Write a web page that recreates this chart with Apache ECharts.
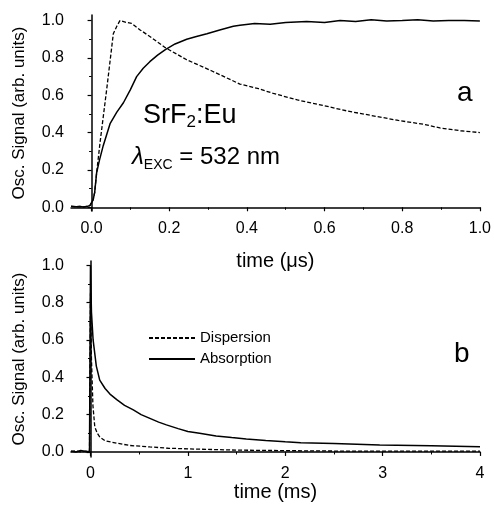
<!DOCTYPE html>
<html><head><meta charset="utf-8">
<script src="https://cdn.jsdelivr.net/npm/echarts@6/dist/echarts.min.js"></script>
<style>html,body{margin:0;padding:0;background:#fff}#c{width:494px;height:508px}</style>
</head><body><div id="c"></div>
<script>
// ---- Panel a (time in microseconds) ----
const topAbsX = [-0.053,-0.04,-0.03,-0.02,-0.01,-0.004,0,0.004,0.008,0.013,0.02,0.03,0.048,0.065,0.082,0.1,0.116,0.133,0.15,0.17,0.19,0.215,0.245,0.27,0.297,0.33,0.365,0.382,0.42,0.46,0.5,0.554,0.6,0.64,0.68,0.72,0.76,0.8,0.84,0.88,0.92,0.96,1.0];
const topAbsY = [0.005,0.003,0.004,0.002,0.005,0.01,0.02,0.04,0.08,0.185,0.25,0.33,0.45,0.51,0.56,0.63,0.70,0.745,0.78,0.815,0.845,0.875,0.90,0.915,0.93,0.95,0.97,0.975,0.985,0.98,0.99,0.995,0.99,1.0,0.995,1.005,0.998,1.0,1.005,0.998,1.0,1.0,0.998];
const topDispX = [-0.053,-0.04,-0.03,-0.02,-0.01,-0.004,0,0.004,0.008,0.013,0.022,0.04,0.056,0.065,0.073,0.078,0.09,0.103,0.125,0.15,0.19,0.245,0.31,0.382,0.43,0.468,0.53,0.597,0.66,0.725,0.79,0.854,0.897,0.95,1.0];
const topDispY = [0.005,0.003,0.004,0.002,0.005,0.01,0.02,0.04,0.08,0.185,0.35,0.65,0.93,0.97,1.0,1.005,0.99,0.985,0.95,0.915,0.855,0.79,0.73,0.66,0.635,0.61,0.575,0.545,0.515,0.49,0.465,0.445,0.425,0.41,0.40];

// ---- Panel b (time in milliseconds) ----
const botAbsX = [-0.2,-0.15,-0.1,-0.05,-0.01,0,0,0.01,0.027,0.06,0.095,0.15,0.2,0.27,0.35,0.44,0.52,0.61,0.7,0.78,0.9,1.0,1.12,1.29,1.45,1.6,1.8,2.0,2.16,2.5,2.97,3.5,4.0];
const botAbsY = [0.005,0.0,0.008,0.002,0.004,0.0,1.0,0.75,0.6,0.46,0.385,0.34,0.31,0.28,0.25,0.225,0.2,0.18,0.16,0.145,0.125,0.11,0.10,0.085,0.077,0.07,0.062,0.055,0.05,0.045,0.037,0.033,0.028];
const botDispX = [-0.2,-0.15,-0.1,-0.05,-0.01,0,0,0.01,0.025,0.044,0.07,0.096,0.15,0.27,0.4,0.61,0.8,1.1,1.5,2.0,2.5,3.0,3.5,4.0];
const botDispY = [0.002,0.006,0.0,0.005,0.003,0.0,0.85,0.5,0.25,0.135,0.1,0.08,0.06,0.047,0.035,0.027,0.02,0.015,0.01,0.007,0.005,0.004,0.004,0.005];

// ---- Ticks ----
const topXTicks = [0,0.2,0.4,0.6,0.8,1.0];
const topXMinor = [0.1,0.3,0.5,0.7,0.9];
const yTicks = [0,0.2,0.4,0.6,0.8,1.0];
const yMinor = [0.1,0.3,0.5,0.7,0.9];
const botXTicks = [0,1,2,3,4];
const botXMinor = [0.5,1.5,2.5,3.5];

const seriesNames = ['Dispersion','Absorption'];

const FONT = 'Liberation Sans, Arial, Helvetica, sans-serif';
const pairs = (xs, ys) => xs.map((x, i) => [x, ys[i]]);
const axLine = {show:true, lineStyle:{color:'#000', width:1.5}};

function mainAxis(grid, min, max, ticks, fmt, margin, extra) {
  return Object.assign({
    type:'value', gridIndex:grid, min:min, max:max,
    axisLine: axLine,
    axisTick:{show:true, inside:false, length:4, customValues:ticks, lineStyle:{color:'#000', width:1.2}},
    axisLabel:{show:true, customValues:ticks, formatter:fmt, color:'#000', fontSize:16, fontFamily:FONT, margin:margin},
    splitLine:{show:false}
  }, extra);
}
function minorAxis(grid, min, max, ticks, extra) {
  return Object.assign({
    type:'value', gridIndex:grid, min:min, max:max,
    axisLine:{show:false},
    axisTick:{show:true, inside:false, length:2.5, customValues:ticks, lineStyle:{color:'#000', width:1}},
    axisLabel:{show:false},
    splitLine:{show:false}
  }, extra);
}

const f1 = v => v.toFixed(1);
const f0 = v => String(Math.round(v));
const nameStyle = {color:'#000', fontSize:20, fontFamily:FONT};
const yNameStyle = {color:'#000', fontSize:17, fontFamily:FONT};

const option = {
  backgroundColor:'#fff',
  animation:false,
  grid:[
    {left:71, right:14, top:15, height:196},
    {left:71, right:14, top:261, height:196}
  ],
  xAxis:[
    mainAxis(0, -0.053, 1.0, topXTicks, f1, 10, {position:'bottom', name:'time (\u03bcs)', nameLocation:'middle', nameGap:40, nameTextStyle:nameStyle}),
    minorAxis(0, -0.053, 1.0, topXMinor, {position:'bottom'}),
    mainAxis(1, -0.2, 4, botXTicks, f0, 9, {position:'bottom', name:'time (ms)', nameLocation:'middle', nameGap:25, nameTextStyle:nameStyle}),
    minorAxis(1, -0.2, 4, botXMinor, {position:'bottom'})
  ],
  yAxis:[
    mainAxis(0, -0.02, 1.03, yTicks, f1, 7, {position:'left', name:'Osc. Signal (arb. units)', nameLocation:'middle', nameGap:43, nameTextStyle:yNameStyle}),
    minorAxis(0, -0.02, 1.03, yMinor, {position:'left'}),
    mainAxis(1, -0.027, 1.023, yTicks, f1, 7, {position:'left', name:'Osc. Signal (arb. units)', nameLocation:'middle', nameGap:43, nameTextStyle:yNameStyle}),
    minorAxis(1, -0.027, 1.023, yMinor, {position:'left'})
  ],
  legend:{
    data:seriesNames, orient:'vertical', left:143, top:325,
    itemWidth:46, itemHeight:2, itemGap:5,
    itemStyle:{opacity:0},
    textStyle:{color:'#000', fontSize:15, fontFamily:FONT, lineHeight:16}
  },
  graphic:[
    {type:'text', left:143, top:102, style:{
      text:'{n|SrF}{s|2}{n|:Eu}',
      rich:{
        n:{fontSize:27, fontFamily:FONT, color:'#000', lineHeight:30, verticalAlign:'middle'},
        s:{fontSize:17, fontFamily:FONT, color:'#000', lineHeight:14, verticalAlign:'bottom'}
      }}},
    {type:'text', left:132, top:145, style:{
      text:'{l|\u03bb}{s|EXC}{n| = 532 nm}',
      rich:{
        l:{fontSize:24, fontFamily:FONT, fontStyle:'italic', color:'#000', lineHeight:30, verticalAlign:'middle'},
        n:{fontSize:24, fontFamily:FONT, color:'#000', lineHeight:30, verticalAlign:'middle'},
        s:{fontSize:14, fontFamily:FONT, color:'#000', lineHeight:12, verticalAlign:'bottom'}
      }}},
    {type:'text', left:457, top:79, style:{text:'a', fontSize:28, fontFamily:FONT, fill:'#000'}},
    {type:'text', left:454, top:340, style:{text:'b', fontSize:28, fontFamily:FONT, fill:'#000'}}
  ],
  series:[
    {name:'a-dispersion', type:'line', xAxisIndex:0, yAxisIndex:0, data:pairs(topDispX, topDispY), symbol:'none', lineStyle:{color:'#000', width:1.3, type:[4,2]}},
    {name:'a-absorption', type:'line', xAxisIndex:0, yAxisIndex:0, data:pairs(topAbsX, topAbsY), symbol:'none', lineStyle:{color:'#000', width:1.5}},
    {name:seriesNames[0], type:'line', xAxisIndex:2, yAxisIndex:2, data:pairs(botDispX, botDispY), symbol:'none', color:'#000', lineStyle:{color:'#000', width:1.3, type:[4,2]}},
    {name:seriesNames[1], type:'line', xAxisIndex:2, yAxisIndex:2, data:pairs(botAbsX, botAbsY), symbol:'none', color:'#000', lineStyle:{color:'#000', width:1.5}}
  ]
};
const chart = echarts.init(document.getElementById('c'), null, {renderer:'canvas'});
chart.setOption(option);
</script>
</body></html>
